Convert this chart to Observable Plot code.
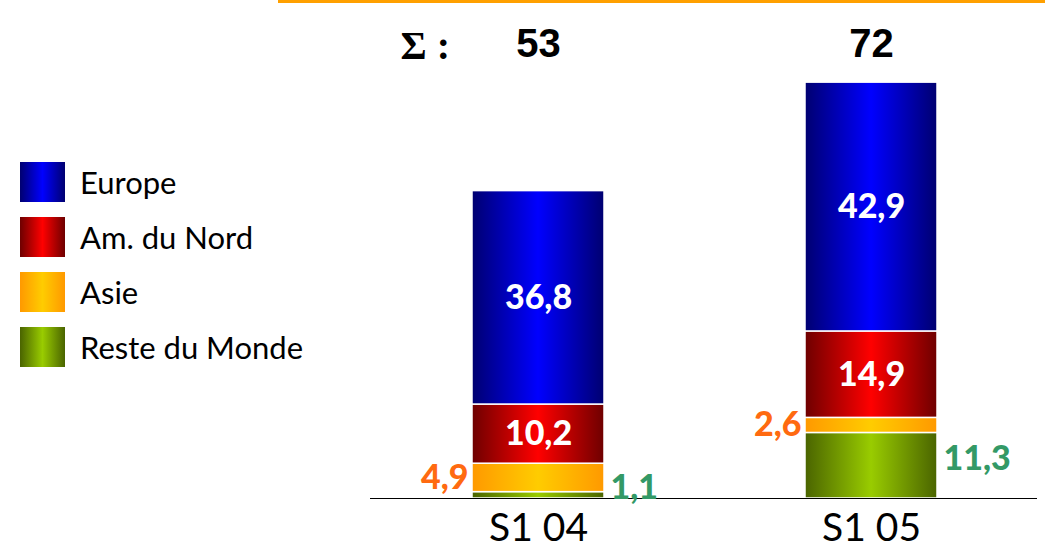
<!DOCTYPE html>
<html><head><meta charset="utf-8">
<script src="https://cdn.jsdelivr.net/npm/d3@7"></script>
<script src="https://cdn.jsdelivr.net/npm/@observablehq/plot@0.6"></script>
<style>
body{margin:0;background:#fff;}
#wrap{position:relative;width:1045px;height:549px;overflow:hidden;font-family:Lato,sans-serif;}
#chart{position:absolute;left:0;top:0;}
#topline{position:absolute;left:278px;top:0;width:767px;height:3px;background:#ffa000;}
#legend{position:absolute;left:20px;top:162px;}
.item{display:flex;align-items:center;height:40px;margin-bottom:15px;}
.sw{width:45px;height:40px;margin-right:15px;}
.lab{font-size:31px;color:#000;}
</style></head>
<body><div id="wrap"><div id="chart"></div><div id="topline"></div><div id="legend"></div></div>
<script>
// ---- data ----
const periods = ["S1 04", "S1 05"];
const regions = ["Reste du Monde", "Asie", "Am. du Nord", "Europe"]; // stack order bottom → top
const legendOrder = ["Europe", "Am. du Nord", "Asie", "Reste du Monde"];
const reste = [1.1, 11.3];
const asie = [4.9, 2.6];
const amNord = [10.2, 14.9];
const europe = [36.8, 42.9];
const totals = [53, 72];

// ---- styles ----
const gradId = {"Europe": "gEur", "Am. du Nord": "gAm", "Asie": "gAsie", "Reste du Monde": "gReste"};
const gradStops = {
  "Europe": ["#000070", "#0000ff"],
  "Am. du Nord": ["#6e0000", "#ff0000"],
  "Asie": ["#ff9900", "#ffcc00"],
  "Reste du Monde": ["#4a6400", "#99cc00"]
};

const series = {"Reste du Monde": reste, "Asie": asie, "Am. du Nord": amNord, "Europe": europe};
const rows = [];
periods.forEach((p, i) => {
  regions.forEach(r => rows.push({period: p, region: r, value: series[r][i]}));
});
const totalRows = periods.map((p, i) => ({period: p, total: totals[i]}));
const fmt = v => v.toFixed(1).replace(".", ",");

const boldFont = "Lato, sans-serif";

const svg = Plot.plot({
  width: 1045,
  height: 549,
  marginTop: 34,
  marginBottom: 51,
  marginLeft: 372,
  marginRight: 8,
  style: {fontFamily: "Lato, sans-serif", background: "transparent", overflow: "visible"},
  x: {domain: periods, paddingInner: 0.604, paddingOuter: 0.3, label: null},
  y: {domain: [0, 80], axis: null},
  color: {type: "ordinal", domain: regions, range: regions.map(r => `url(#${gradId[r]})`)},
  marks: [
    Plot.barY(rows, Plot.stackY({x: "period", y: "value", fill: "region", stroke: "white", strokeWidth: 1.5})),
    Plot.ruleY([0], {stroke: "black", strokeWidth: 1.2, insetLeft: -2}),
    Plot.axisX({tickSize: 0, tickPadding: 15, fontSize: 39, label: null, fill: "black"}),
    // inside labels
    Plot.text(rows, Plot.stackY({x: "period", y: "value",
      text: d => (d.region === "Europe" || d.region === "Am. du Nord") ? fmt(d.value) : null,
      fill: "white", fontSize: 34, fontWeight: 900, fontFamily: boldFont})),
    // Asie labels (left)
    Plot.text(rows, Plot.stackY({x: "period", y: "value",
      text: d => d.region === "Asie" ? fmt(d.value) : null,
      fill: "#ff6a10", fontSize: 34, fontWeight: 900, fontFamily: boldFont,
      textAnchor: "end", dx: -70})),
    // Reste labels (right)
    Plot.text(rows, Plot.stackY({x: "period", y: "value",
      text: d => d.region === "Reste du Monde" ? fmt(d.value) : null,
      fill: "#339966", fontSize: 34, fontWeight: 900, fontFamily: boldFont,
      textAnchor: "start", dx: 72, dy: -7})),
    // totals
    Plot.text(totalRows, {x: "period", text: d => String(d.total), frameAnchor: "top", dy: -6,
      fontSize: 40, fontWeight: "bold", fontFamily: "Liberation Sans, Arial, sans-serif", fill: "black"}),
    Plot.text(["Σ :"], {frameAnchor: "top-left", dx: 28, dy: -4, textAnchor: "start",
      fontSize: 40, fontWeight: "bold", fontFamily: "Liberation Serif, serif", fill: "black"})
  ]
});

// gradients
const defs = d3.select(svg).insert("defs", ":first-child");
regions.forEach(r => {
  const [edge, mid] = gradStops[r];
  const g = defs.append("linearGradient").attr("id", gradId[r]).attr("x1", 0).attr("x2", 1).attr("y1", 0).attr("y2", 0);
  g.append("stop").attr("offset", "0%").attr("stop-color", edge);
  g.append("stop").attr("offset", "50%").attr("stop-color", mid);
  g.append("stop").attr("offset", "100%").attr("stop-color", edge);
});
document.getElementById("chart").appendChild(svg);

// legend
const leg = document.getElementById("legend");
legendOrder.forEach(r => {
  const [edge, mid] = gradStops[r];
  const item = document.createElement("div");
  item.className = "item";
  const sw = document.createElement("div");
  sw.className = "sw";
  sw.style.background = `linear-gradient(to right, ${edge}, ${mid} 50%, ${edge})`;
  const lab = document.createElement("span");
  lab.className = "lab";
  lab.textContent = r;
  item.appendChild(sw);
  item.appendChild(lab);
  leg.appendChild(item);
});
</script>
</body></html>
